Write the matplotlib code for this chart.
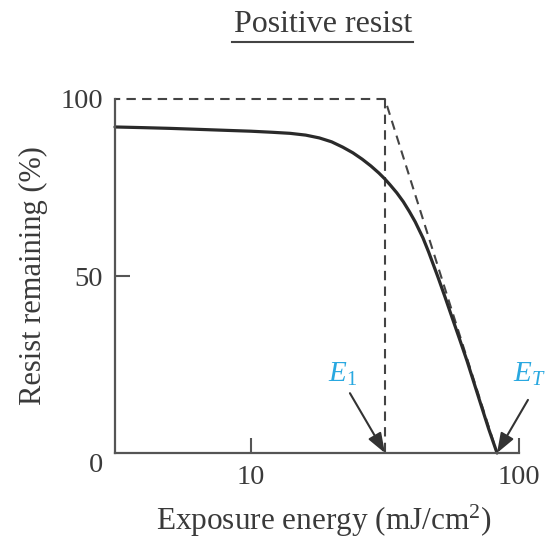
import matplotlib
matplotlib.use("Agg")
import matplotlib.pyplot as plt
from matplotlib.lines import Line2D
from matplotlib.transforms import ScaledTranslation
from matplotlib.ticker import NullLocator

plt.rcParams['font.family'] = ['Liberation Serif', 'DejaVu Serif']
plt.rcParams['mathtext.fontset'] = 'custom'
plt.rcParams['mathtext.rm'] = 'Liberation Serif'
plt.rcParams['mathtext.it'] = 'Liberation Serif:italic'

# ---- data ----
energy = [3.11, 4, 5, 6.5, 8.4, 10, 12, 14, 16, 18, 20, 22, 24, 26, 28, 30, 31.6,
          33, 35, 37, 39, 41, 43.8, 46, 49.9, 53, 56.2, 60, 64, 67.3, 72, 77, 82.8]
remaining = [92.1, 91.9, 91.7, 91.4, 91.1, 90.9, 90.6, 90.3, 89.8, 89.0, 87.9, 86.4,
             84.8, 83.0, 81.1, 79.1, 77.4, 75.8, 73.5, 71.0, 68.2, 65.3, 60.8, 56.8,
             49.6, 44.0, 38.4, 32.2, 26.0, 20.8, 13.8, 6.9, 0]
ideal_energy = [3.11, 31.6, 82.8]
ideal_remaining = [100, 100, 0]
E1 = 31.6
ET = 82.8
x_ticks = [10, 100]
x_tick_labels = ['10', '100']
y_ticks = [0, 50, 100]
y_tick_labels = ['0', '50', '100']

TEXT = '#3a3a3a'
LINE = '#2a2a2a'
SPINE = '#555555'
BLUE = '#29a8e0'

fig = plt.figure(figsize=(5.46, 5.46), dpi=100)
ax = fig.add_axes([115/546, 1-453/546, 404/546, 354/546])
ax.set_xscale('log')
ax.set_xlim(3.11, 100)
ax.set_ylim(0, 100)

# ideal (dashed) response
ax.plot(ideal_energy, ideal_remaining, ls=(2, (4.5, 3)), color='#444444', lw=1.5,
        clip_on=False)
ax.plot([E1, E1], [100, 0], ls=(0, (4.5, 3)), color='#444444', lw=1.5, clip_on=False)
# real curve
ax.plot(energy, remaining, color=LINE, lw=2.3, solid_capstyle='round',
        solid_joinstyle='round', clip_on=False)

for s in ['top', 'right']:
    ax.spines[s].set_visible(False)
for s in ['left', 'bottom']:
    ax.spines[s].set_color(SPINE)
    ax.spines[s].set_linewidth(1.6)

ax.set_xticks(x_ticks, x_tick_labels)
ax.xaxis.set_minor_locator(NullLocator())
ax.set_yticks(y_ticks, y_tick_labels)
ax.tick_params(axis='both', direction='in', length=10.5, width=1.5, color=SPINE,
               labelsize=20.5, labelcolor=TEXT)
ax.tick_params(axis='x', pad=9)
ax.tick_params(axis='y', pad=8.5)
yt = ax.yaxis.get_major_ticks()
yt[0].tick1line.set_visible(False)
yt[2].tick1line.set_visible(False)
for lbl in ax.get_yticklabels():
    if lbl.get_text() == '0':
        lbl.set_transform(lbl.get_transform() + ScaledTranslation(0, -9/100, fig.dpi_scale_trans))

ax.set_xlabel('Exposure energy (mJ/cm$^2$)', fontsize=22.5, color=TEXT)
ax.xaxis.set_label_coords((324-115)/404, (453-503)/354)
ax.set_ylabel('Resist remaining (%)', fontsize=22, color=TEXT)
ax.yaxis.set_label_coords((48-115)/404, 0.5)

# arrows and labels
arrow_kw = dict(arrowstyle='-|>,head_length=0.6,head_width=0.22', color='#333333',
                lw=1.5, shrinkA=0, shrinkB=0, mutation_scale=20)
ax.annotate('', xy=(E1, 0), xytext=(23.4, 16.9), arrowprops=arrow_kw, annotation_clip=False)
ax.annotate('', xy=(ET, 0), xytext=(108, 15), arrowprops=arrow_kw, annotation_clip=False)
ax.text(21.9, 22.3, '$E_1$', color=BLUE, fontsize=21, ha='center', va='center')
ax.text(95, 22.3, '$E_T$', color=BLUE, fontsize=21, ha='left', va='center', clip_on=False)

# title with underline
fig.text(323/546, 1-24/546, 'Positive resist', ha='center', va='center', fontsize=23,
         color=TEXT)
fig.add_artist(Line2D([232/546, 413/546], [1-42/546, 1-42/546], lw=1.5, color='#444444'))

fig.savefig('out.png', dpi=100)
